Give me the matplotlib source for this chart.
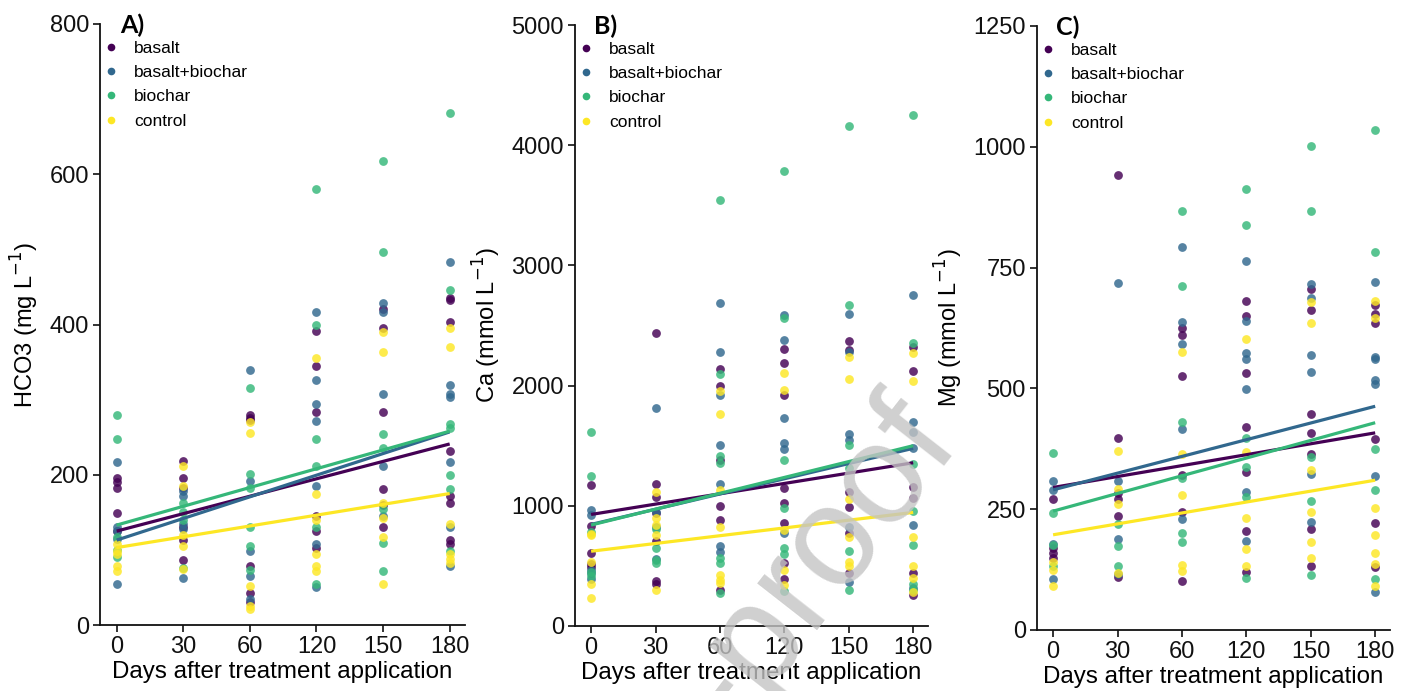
import matplotlib
matplotlib.use("Agg")
import matplotlib.pyplot as plt
from matplotlib.lines import Line2D

plt.rcParams['font.family'] = ['Liberation Sans', 'DejaVu Sans']

days = ["0", "30", "60", "120", "150", "180"]
treatments = ["basalt", "basalt+biochar", "biochar", "control"]
colors = ["#440154", "#31688E", "#35B779", "#FDE725"]

# ---------------- Panel A: HCO3 (mg L-1) ----------------
hco3_basalt = [[196, 191, 182, 149, 125],
               [218, 196, 183, 130, 113, 87],
               [280, 276, 273, 79, 42, 30],
               [392, 345, 283, 145, 125, 102],
               [420, 396, 283, 181, 160, 130],
               [435, 432, 403, 232, 172, 163, 113, 108]]
hco3_basalt_biochar = [[217, 130, 114, 125, 54],
                       [179, 172, 135, 128, 62],
                       [339, 192, 99, 65, 35],
                       [417, 326, 294, 272, 185, 108, 50],
                       [428, 417, 308, 211, 145],
                       [483, 319, 307, 304, 217, 130, 79]]
hco3_biochar = [[280, 247, 117, 91, 100],
                [163, 150, 140, 76],
                [316, 201, 183, 130, 105, 73],
                [580, 400, 247, 211, 130, 55],
                [617, 497, 254, 236, 154, 109, 72],
                [682, 446, 268, 262, 200, 181, 99]]
hco3_control = [[108, 99, 79, 72, 95],
                [211, 185, 120, 105, 74],
                [270, 255, 52, 25, 21],
                [355, 174, 140, 95, 79, 72],
                [390, 363, 163, 143, 117, 55],
                [396, 370, 135, 95, 88, 83]]
hco3_fit_start = [125, 113, 133, 103]
hco3_fit_end = [241, 257, 258, 175]

# ---------------- Panel B: Ca (mmol L-1) ----------------
ca_basalt = [[1172, 831, 608, 519, 490],
             [2436, 1181, 1070, 937, 708, 375, 353],
             [2137, 2000, 1381, 997, 881, 303],
             [2303, 2186, 1922, 1145, 1020, 853, 525, 387],
             [2367, 2297, 1117, 987, 775, 437],
             [2320, 2125, 1158, 1067, 437, 256]]
ca_basalt_biochar = [[969, 922, 470, 437, 394],
                     [1811, 950, 820, 560],
                     [2686, 2278, 1922, 1503, 1178, 667, 617],
                     [2589, 2381, 1733, 1525, 1470, 775],
                     [2595, 2280, 1597, 1547, 825, 367],
                     [2750, 1695, 1612, 1480, 839, 320]]
ca_biochar = [[1617, 1248, 780, 420, 450],
              [811, 653, 547, 520],
              [3547, 2097, 1414, 1358, 562, 520, 275],
              [3783, 2561, 1381, 978, 653, 603, 289],
              [4156, 2667, 1506, 1312, 625, 297],
              [4253, 2353, 1345, 958, 678, 353, 297]]
ca_control = [[769, 533, 353, 237, 760],
              [1117, 839, 756, 297, 900],
              [1956, 1762, 1131, 820, 422, 381, 360],
              [2103, 1964, 800, 470, 340],
              [2242, 2056, 1053, 742, 533, 500],
              [2275, 2042, 737, 497, 400, 280]]
ca_fit_start = [928, 845, 840, 622]
ca_fit_end = [1358, 1478, 1500, 945]

# ---------------- Panel C: Mg (mmol L-1) ----------------
mg_basalt = [[272, 159, 150, 170],
             [941, 398, 283, 272, 236, 109],
             [625, 611, 526, 244, 101, 320],
             [680, 649, 531, 420, 328, 204, 120],
             [706, 663, 447, 408, 364, 209, 133],
             [673, 654, 636, 396, 221, 130]]
mg_basalt_biochar = [[308, 290, 178, 106],
                     [718, 308, 189, 115],
                     [793, 637, 591, 415, 230],
                     [764, 640, 574, 560, 498, 285, 185],
                     [717, 688, 569, 533, 322, 223],
                     [720, 565, 560, 517, 510, 318, 78]]
mg_biochar = [[366, 243, 175, 133],
              [220, 173, 133],
              [867, 712, 430, 315, 200, 182],
              [913, 838, 398, 337, 275, 107],
              [1001, 867, 357, 267, 113],
              [1034, 782, 374, 289, 106]]
mg_control = [[140, 125, 92],
              [370, 292, 261, 117],
              [576, 364, 279, 134, 122],
              [602, 369, 232, 168, 133],
              [679, 636, 332, 245, 183, 149],
              [680, 645, 253, 197, 160, 137, 92]]
mg_fit_start = [295, 290, 246, 197]
mg_fit_end = [408, 463, 429, 310]

panels = [
    dict(label="A)", ylabel="HCO3 (mg L$^{-1}$)", ymax=800, yticks=[0, 200, 400, 600, 800],
         series=[hco3_basalt, hco3_basalt_biochar, hco3_biochar, hco3_control],
         start=hco3_fit_start, end=hco3_fit_end,
         rect=[100 / 1408, 1 - 625 / 691, 365 / 1408, 601 / 691]),
    dict(label="B)", ylabel="Ca (mmol L$^{-1}$)", ymax=5000, yticks=[0, 1000, 2000, 3000, 4000, 5000],
         series=[ca_basalt, ca_basalt_biochar, ca_biochar, ca_control],
         start=ca_fit_start, end=ca_fit_end,
         rect=[575 / 1408, 1 - 626 / 691, 353 / 1408, 601 / 691]),
    dict(label="C)", ylabel="Mg (mmol L$^{-1}$)", ymax=1250, yticks=[0, 250, 500, 750, 1000, 1250],
         series=[mg_basalt, mg_basalt_biochar, mg_biochar, mg_control],
         start=mg_fit_start, end=mg_fit_end,
         rect=[1037 / 1408, 1 - 630 / 691, 353 / 1408, 604 / 691]),
]

fig = plt.figure(figsize=(14.08, 6.91), dpi=100)

for p in panels:
    ax = fig.add_axes(p["rect"])
    for ti, (vals, col) in enumerate(zip(p["series"], colors)):
        xs, ys = [], []
        for di, dv in enumerate(vals):
            xs.extend([di] * len(dv))
            ys.extend(dv)
        ax.scatter(xs, ys, s=40, color=col, alpha=0.82, linewidths=0, zorder=2)
    for ti, col in enumerate(colors):
        ax.plot([0, len(days) - 1], [p["start"][ti], p["end"][ti]], color=col, lw=2.3,
                solid_capstyle='butt', zorder=3)
    ax.set_xlim(-0.25, 5.23)
    ax.set_ylim(0, p["ymax"])
    ax.set_xticks(range(len(days)))
    ax.set_xticklabels(days)
    ax.set_yticks(p["yticks"])
    for s in ["top", "right"]:
        ax.spines[s].set_visible(False)
    for s in ["left", "bottom"]:
        ax.spines[s].set_linewidth(1.3)
        ax.spines[s].set_color("#111111")
    ax.tick_params(axis='both', labelsize=17, length=5, width=1.2, pad=3, colors="#111111")
    ax.set_xlabel("Days after treatment application", fontsize=17.4, labelpad=2)
    ax.set_ylabel(p["ylabel"], fontsize=17, labelpad=6)
    ax.text(0.055, 1.017, p["label"], transform=ax.transAxes, fontsize=18, fontweight='bold',
            family=['Lato', 'DejaVu Sans'], va='top', ha='left')
    handles = [Line2D([0], [0], marker='o', linestyle='none', markersize=5.5,
                      markerfacecolor=c, markeredgewidth=0) for c in colors]
    ax.legend(handles, treatments, loc='upper left', bbox_to_anchor=(-0.012, 0.984),
              frameon=False, fontsize=12.5, handlelength=1.0, handletextpad=0.8,
              labelspacing=0.53, borderaxespad=0.0)

fig.text(962 / 1408, 1 - 445 / 691, "Journal Pre-proof", rotation=52, rotation_mode='anchor',
         ha='right', va='baseline', fontsize=102, color='#c4c4c4', alpha=0.8, zorder=10)

fig.savefig("out.png", dpi=100)
